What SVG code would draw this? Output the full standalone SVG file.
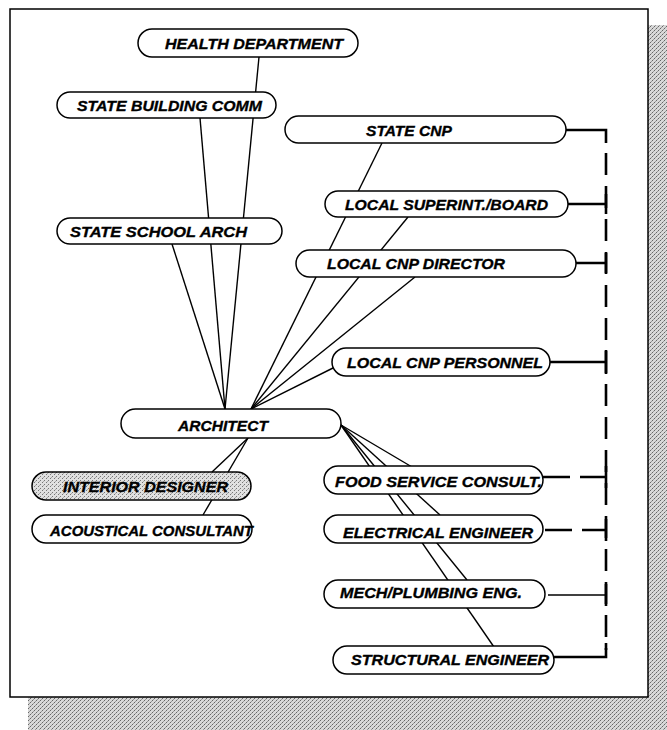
<svg xmlns="http://www.w3.org/2000/svg" width="667" height="730" viewBox="0 0 667 730">
<style>
.pill{fill:#fff;stroke:#000;stroke-width:1.5}
.pill.shade{fill:url(#stip2)}
.lbl{font-family:"Liberation Sans",Arial,sans-serif;font-weight:bold;font-style:italic;font-size:15.5px;fill:#000;stroke:#000;stroke-width:0.35}
.ln{stroke:#000;stroke-width:1.4;fill:none}
.br{stroke:#000;stroke-width:2.6;fill:none}
.dash{stroke-dasharray:22 11}
.hdash{stroke-dasharray:27 10}
.thin{stroke:#000;stroke-width:1.6;fill:none}
</style>
<defs>
<pattern id="stip" width="4" height="4" patternUnits="userSpaceOnUse">
<rect width="4" height="4" fill="#d8d8d8"/>
<rect width="1" height="1" fill="#666"/>
<rect x="2" y="2" width="1" height="1" fill="#666"/>
<rect x="1" y="3" width="1" height="1" fill="#999"/>
<rect x="3" y="1" width="1" height="1" fill="#999"/>
</pattern>
<pattern id="stip2" width="4" height="4" patternUnits="userSpaceOnUse">
<rect width="4" height="4" fill="#e0e0e0"/>
<rect width="1" height="1" fill="#777"/>
<rect x="2" y="2" width="1" height="1" fill="#777"/>
<rect x="3" y="1" width="1" height="1" fill="#aaa"/>
</pattern>
</defs>
<rect width="667" height="730" fill="#fff"/>
<g id="frame">
<rect x="648" y="25" width="19" height="705" fill="url(#stip)"/>
<rect x="28" y="697" width="639" height="33" fill="url(#stip)"/>
<rect x="10" y="9" width="638" height="688" fill="#fff" stroke="#000" stroke-width="1.5"/>
</g>
<g id="connectors">
<line class="ln" x1="259" y1="57" x2="225" y2="409"/>
<line class="ln" x1="200" y1="118" x2="225" y2="409"/>
<line class="ln" x1="172" y1="244" x2="225" y2="409"/>
<line class="ln" x1="382" y1="143" x2="251" y2="409"/>
<line class="ln" x1="408" y1="217" x2="251" y2="409"/>
<line class="ln" x1="415" y1="277" x2="251" y2="409"/>
<line class="ln" x1="335" y1="367" x2="251" y2="409"/>
<line class="ln" x1="341" y1="425" x2="412" y2="467"/>
<line class="ln" x1="341" y1="425" x2="440" y2="515"/>
<line class="ln" x1="341" y1="425" x2="467" y2="580"/>
<line class="ln" x1="341" y1="425" x2="494" y2="647"/>
<line class="ln" x1="248" y1="438" x2="212" y2="472"/>
<line class="ln" x1="248" y1="438" x2="203" y2="515"/>
<path class="br" d="M566 130H606V143"/>
<path class="br dash" d="M606 153V650"/>
<path class="br" d="M568 204H606M606 194V214"/>
<path class="br" d="M576 263H606M606 253V273"/>
<path class="br" d="M550 362H606M606 350V374"/>
<path class="br hdash" d="M543 477H606"/>
<path class="br" d="M606 466V488"/>
<path class="br hdash" d="M545 530H606"/>
<path class="br" d="M606 519V541"/>
<path class="thin" d="M548 595H606"/>
<path class="br" d="M606 584V606"/>
<path class="br" d="M554 657H606V643"/>
</g>
<g id="health-department"><rect class="pill" x="138" y="29" width="220" height="28" rx="14"/><text class="lbl" x="165" y="48.5" textLength="178" lengthAdjust="spacingAndGlyphs">HEALTH DEPARTMENT</text></g>
<g id="state-building-comm"><rect class="pill" x="57" y="92" width="219" height="26" rx="13"/><text class="lbl" x="77" y="110.5" textLength="185" lengthAdjust="spacingAndGlyphs">STATE BUILDING COMM</text></g>
<g id="state-cnp"><rect class="pill" x="285" y="116" width="281" height="27" rx="13.5"/><text class="lbl" x="366" y="135.5" textLength="86" lengthAdjust="spacingAndGlyphs">STATE CNP</text></g>
<g id="local-superint-board"><rect class="pill" x="325" y="191" width="243" height="26" rx="13"/><text class="lbl" x="345" y="209.5" textLength="203" lengthAdjust="spacingAndGlyphs">LOCAL SUPERINT./BOARD</text></g>
<g id="state-school-arch"><rect class="pill" x="57" y="218" width="225" height="26" rx="13"/><text class="lbl" x="70" y="236.5" textLength="177" lengthAdjust="spacingAndGlyphs">STATE SCHOOL ARCH</text></g>
<g id="local-cnp-director"><rect class="pill" x="296" y="250" width="280" height="27" rx="13.5"/><text class="lbl" x="327" y="269" textLength="178" lengthAdjust="spacingAndGlyphs">LOCAL CNP DIRECTOR</text></g>
<g id="local-cnp-personnel"><rect class="pill" x="332" y="348" width="218" height="28" rx="14"/><text class="lbl" x="347" y="367.5" textLength="196" lengthAdjust="spacingAndGlyphs">LOCAL CNP PERSONNEL</text></g>
<g id="architect"><rect class="pill" x="121" y="409" width="220" height="29" rx="14.5"/><text class="lbl" x="178" y="431" textLength="90" lengthAdjust="spacingAndGlyphs">ARCHITECT</text></g>
<g id="interior-designer"><rect class="pill shade" x="32" y="472" width="219" height="28" rx="14"/><text class="lbl" x="63" y="492" textLength="165" lengthAdjust="spacingAndGlyphs">INTERIOR DESIGNER</text></g>
<g id="acoustical-consultant"><rect class="pill" x="32" y="515" width="220" height="28" rx="14"/><text class="lbl" x="50" y="536" textLength="203" lengthAdjust="spacingAndGlyphs">ACOUSTICAL CONSULTANT</text></g>
<g id="food-service-consult"><rect class="pill" x="324" y="466" width="219" height="28" rx="14"/><text class="lbl" x="335" y="486.5" textLength="207" lengthAdjust="spacingAndGlyphs">FOOD SERVICE CONSULT.</text></g>
<g id="electrical-engineer"><rect class="pill" x="324" y="515" width="219" height="28" rx="14"/><text class="lbl" x="343" y="537.5" textLength="190" lengthAdjust="spacingAndGlyphs">ELECTRICAL ENGINEER</text></g>
<g id="mech-plumbing-eng"><rect class="pill" x="324" y="580" width="221" height="28" rx="14"/><text class="lbl" x="340" y="598" textLength="182" lengthAdjust="spacingAndGlyphs">MECH/PLUMBING ENG.</text></g>
<g id="structural-engineer"><rect class="pill" x="333" y="646" width="221" height="28" rx="14"/><text class="lbl" x="351" y="665" textLength="198" lengthAdjust="spacingAndGlyphs">STRUCTURAL ENGINEER</text></g>
</svg>
